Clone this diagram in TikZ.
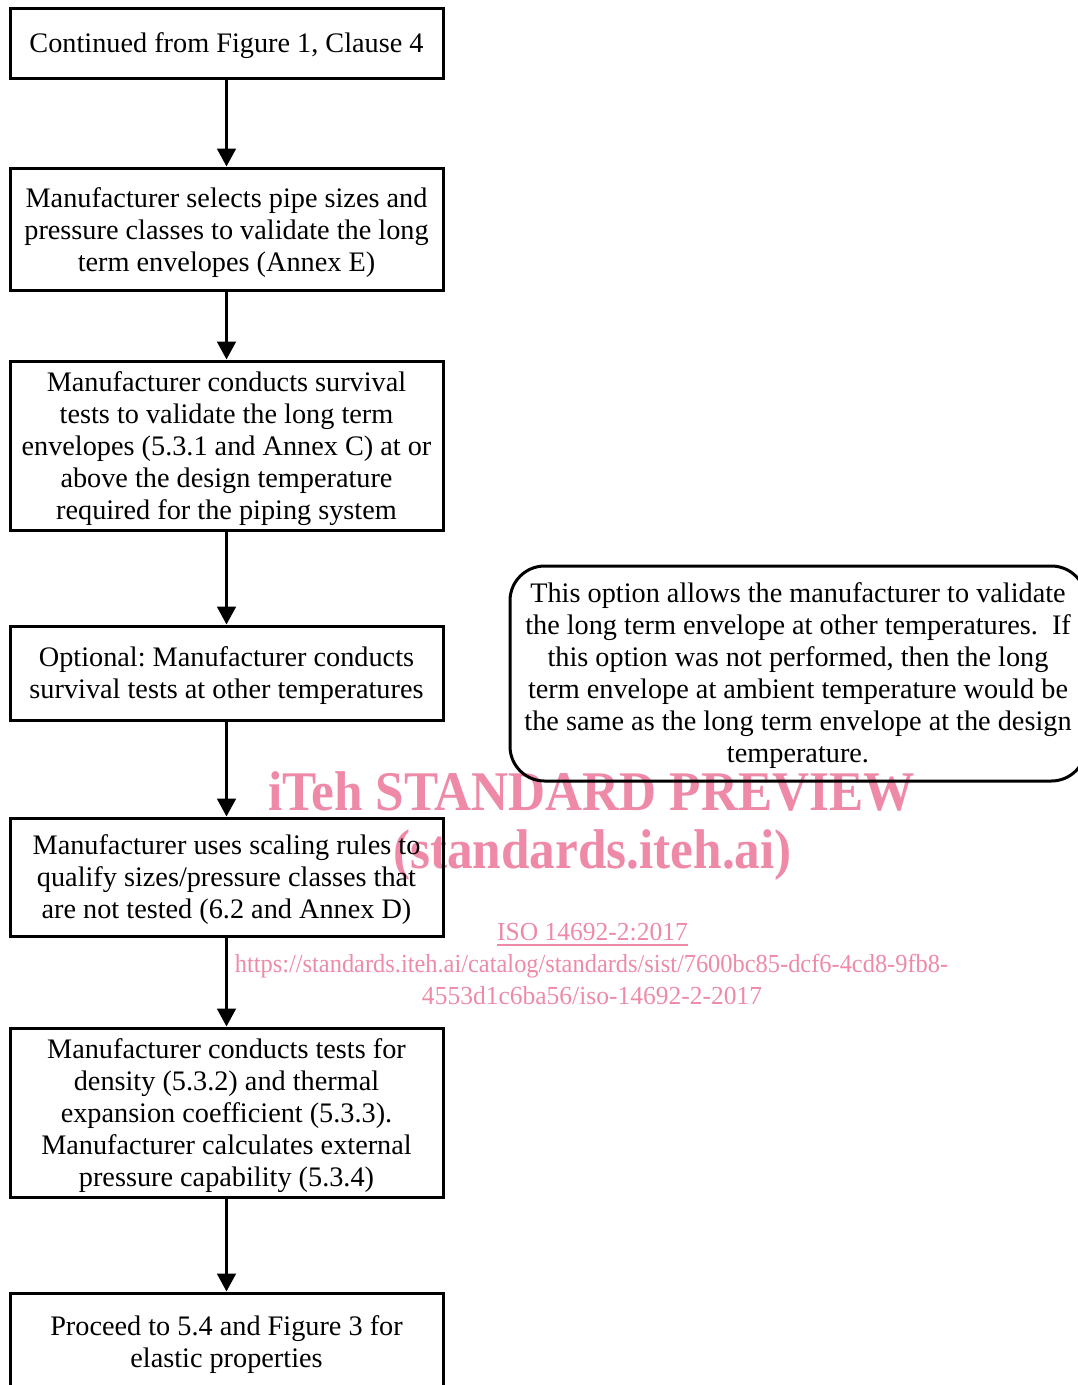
\documentclass[tikz,border=0pt]{standalone}
\usepackage{fontspec}
\setmainfont{Liberation Serif}
\usetikzlibrary{arrows.meta}
\definecolor{wm}{RGB}{238,138,168}
\begin{document}
\begin{tikzpicture}[x=0.75pt,y=-0.75pt,
 boxtext/.style={align=center,inner sep=0pt,font=\fontsize{21.2}{24}\selectfont\frenchspacing},
 flowbox/.style={draw,line width=2.25pt,minimum width=324.75pt,inner sep=0pt},
 notebox/.style={draw,line width=2.25pt,rounded corners=26pt,minimum width=432pt,minimum height=161.25pt,inner sep=0pt},
 flowarrow/.style={line width=2.25pt,-{Triangle[length=13.5pt,width=14pt]}},
 wmark/.style={text=wm,inner sep=0pt,anchor=base}]
\useasboundingbox (0,0) rectangle (1078,1385);
% watermark (behind)
\node[wmark] (w1) at (591.5,810) {\resizebox{485pt}{\height}{\fontsize{42}{42}\selectfont\bfseries iTeh STANDARD PREVIEW}};
\node[wmark] (w2) at (592.5,868) {\resizebox{299pt}{\height}{\fontsize{42}{42}\selectfont\bfseries (standards.iteh.ai)}};
\node[wmark] (w3) at (592.5,940) {\resizebox{143pt}{\height}{\fontsize{19.5}{20}\selectfont ISO 14692-2:2017}};
\draw[wm,line width=0.9pt] (497,945) -- (688,945);
\node[wmark] (w4) at (591.5,972) {\resizebox{535pt}{\height}{\fontsize{19.5}{20}\selectfont https://standards.iteh.ai/catalog/standards/sist/7600bc85-dcf6-4cd8-9fb8-}};
\node[wmark] (w5) at (592,1004) {\resizebox{255pt}{\height}{\fontsize{19.5}{20}\selectfont 4553d1c6ba56/iso-14692-2-2017}};
% boxes
\node[flowbox,minimum height=52.5pt] (b1) at (226.5,43) {};
\node[flowbox,minimum height=91.5pt] (b2) at (226.5,229) {};
\node[flowbox,minimum height=126.75pt] (b3) at (226.5,445.5) {};
\node[flowbox,minimum height=70.5pt] (b4) at (226.5,673) {};
\node[flowbox,minimum height=88.5pt] (b5) at (226.5,877) {};
\node[flowbox,minimum height=126.75pt] (b6) at (226.5,1112.5) {};
\node[flowbox,minimum height=74.25pt] (b7) at (226.5,1342.5) {};
\node[notebox] (n1) at (798,673.5) {};
% texts
\node[boxtext] (t1) at ([yshift=-2.2pt]b1.center) {Continued from Figure 1, Clause 4};
\node[boxtext] (t2) at ([yshift=-2.6pt]b2.center) {Manufacturer selects pipe sizes and\\pressure classes to validate the long\\term envelopes (Annex E)};
\node[boxtext] (t3) at ([yshift=-2.4pt]b3.center) {Manufacturer conducts survival\\tests to validate the long term\\envelopes (5.3.1 and Annex C) at or\\above the design temperature\\required for the piping system};
\node[boxtext] (t4) at ([yshift=-2.2pt]b4.center) {Optional: Manufacturer conducts\\survival tests at other temperatures};
\node[boxtext] (t5) at ([yshift=-2.2pt]b5.center) {Manufacturer uses scaling rules to\\qualify sizes/pressure classes that\\are not tested (6.2 and Annex D)};
\node[boxtext] (t6) at ([yshift=-2.4pt]b6.center) {Manufacturer conducts tests for\\density (5.3.2) and thermal\\expansion coefficient (5.3.3).\\Manufacturer calculates external\\pressure capability (5.3.4)};
\node[boxtext] (t7) at ([yshift=-1.5pt]b7.center) {Proceed to 5.4 and Figure 3 for\\elastic properties};
\node[boxtext] (t8) at ([yshift=-1.6pt]n1.center) {This option allows the manufacturer to validate\\the long term envelope at other temperatures.\ \ If\\this option was not performed, then the long\\term envelope at ambient temperature would be\\the same as the long term envelope at the design\\temperature.};
% connectors
\draw[flowarrow] (b1) -- (b2);
\draw[flowarrow] (b2) -- (b3);
\draw[flowarrow] (b3) -- (b4);
\draw[flowarrow] (b4) -- (b5);
\draw[flowarrow] (b5) -- (b6);
\draw[flowarrow] (b6) -- (b7);
\end{tikzpicture}
\end{document}
